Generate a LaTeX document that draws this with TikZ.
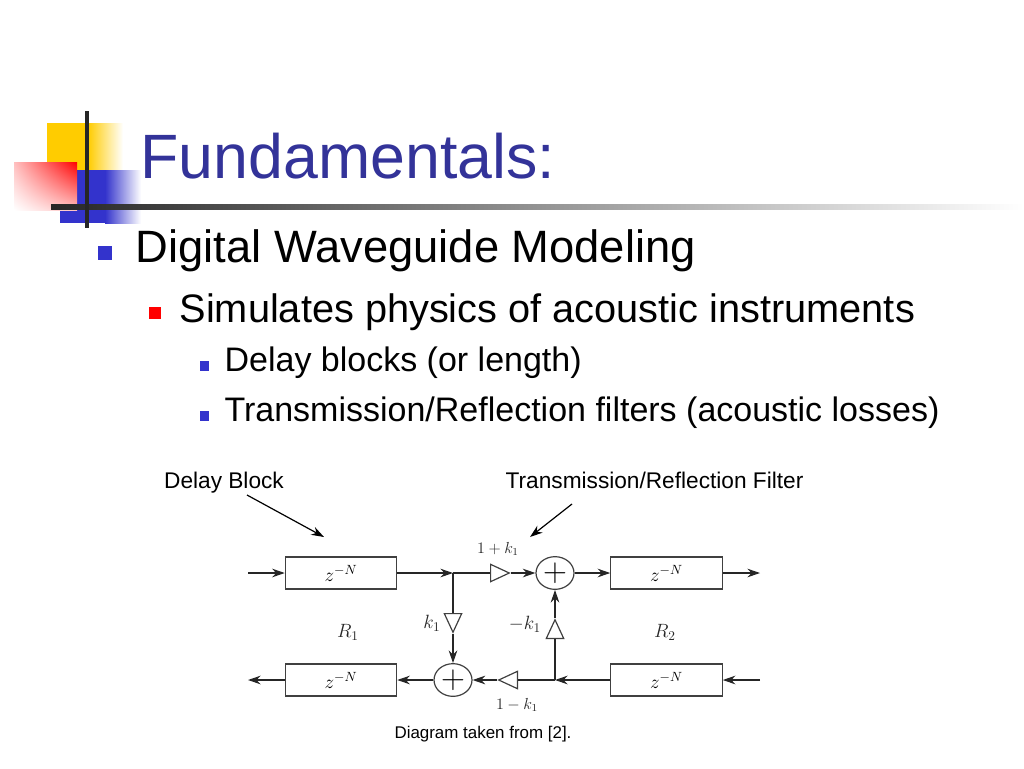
\documentclass[tikz,border=0pt]{standalone}
\usepackage{amsmath}
\usepackage{fontspec}
\setmainfont{Liberation Sans}
\usetikzlibrary{arrows.meta, positioning, shapes.geometric, shadings, calc}
\definecolor{titleblue}{RGB}{51,51,153}
\definecolor{bulletblue}{RGB}{51,51,204}
\definecolor{logoyellow}{RGB}{255,204,0}
\begin{document}
\begin{tikzpicture}[
		x=0.75pt, y=-0.75pt,
		>={Stealth[length=9.5pt,width=6.5pt]},
		line width=0.9pt,
		block/.style={rectangle, draw=black!75, minimum width=83.5pt, minimum height=24pt, inner sep=0pt},
		sum/.style={ellipse, draw=black!75, minimum width=28.5pt, minimum height=24.5pt, inner sep=0pt},
		gain/.style={isosceles triangle, isosceles triangle stretches, draw=black!75, minimum width=13pt, minimum height=14pt, inner sep=0pt, shape border rotate=#1, anchor=lower side},
		wire/.style={draw=black!85},
		tag/.style={font=\Large, inner sep=0pt, text=black!85},
		smalltag/.style={font=\large, inner sep=0pt, text=black!85},
		caption/.style={font=\fontsize{17}{20}\selectfont, inner sep=0pt, anchor=base},
		head/.style={anchor=base west, inner sep=0pt, font=\fontsize{#1}{#1}\selectfont},
		square/.style={fill=#1, draw=none, inner sep=0pt}
	]
	\useasboundingbox (0,0) rectangle (1024,768);
	% logo
	\fill[logoyellow] (47,123) rectangle (88,170);
	\shade[left color=logoyellow, right color=white] (88,123) rectangle (123,170);
	\fill[bulletblue] (60,170) rectangle (105,223);
	\shade[left color=bulletblue, right color=white] (105,170) rectangle (141,223);
	\shade[upper right=red, lower left=white, upper left=red!25!white, lower right=red!25!white] (14,162) rectangle (77,210);
	\shade[left color=black!85, right color=white] (51,204.5) rectangle (1024,209.5);
	\fill[black!85] (85.3,111) rectangle (88.7,228);

	% text
	\node[head=47, text=titleblue] (title) at (140,178) {Fundamentals:};
	\node[square=bulletblue, minimum size=10.5pt] (b1) at (105,253) {};
	\node[head=34] (l1) at (135,262) {Digital Waveguide Modeling};
	\node[square=red, minimum size=8.5pt] (b2) at (155,313) {};
	\node[head=29.8] (l2) at (179,322) {Simulates physics of acoustic instruments};
	\node[square=bulletblue, minimum size=7pt] (b3) at (204.5,366) {};
	\node[head=25.5] (l3) at (224,371) {Delay blocks (or length)};
	\node[square=bulletblue, minimum size=7pt] (b4) at (204.5,416) {};
	\node[head=25.5] (l4) at (224,421) {Transmission/Reflection filters (acoustic losses)};

	% blocks
	\node[block] (z1) at (341,573) {\Large $z^{-N}$};
	\node[block] (z2) at (666.5,573) {\Large $z^{-N}$};
	\node[block] (z3) at (341,680) {\Large $z^{-N}$};
	\node[block] (z4) at (666.5,680) {\Large $z^{-N}$};
	\node[sum] (s1) at (555,573) {\Huge $+$};
	\node[sum] (s2) at (453,680) {\Huge $+$};
	\node[gain=0] (g1) at (490,573) {};
	\node[gain=-90] (g2) at (453,613) {};
	\node[gain=90] (g3) at (555,639) {};
	\node[gain=180] (g4) at (518,680) {};

	\coordinate (in1) at (248,573);
	\coordinate (out1) at (760,573);
	\coordinate (in2) at (760,680);
	\coordinate (out2) at (248,680);
	\coordinate (j1) at (453,573);
	\coordinate (j2) at (555,680);

	% wires
	\draw[wire,->] (in1) -- (z1);
	\draw[wire,->] (z1) -- (j1);
	\draw[wire] (j1) -- (g1.lower side);
	\draw[wire,->] (g1.apex) -- (s1);
	\draw[wire,->] (s1) -- (z2);
	\draw[wire,->] (z2) -- (out1);
	\draw[wire] (j1) -- (g2.lower side);
	\draw[wire,->] (g2.apex) -- (s2);
	\draw[wire,->] (in2) -- (z4);
	\draw[wire,->] (z4) -- (j2);
	\draw[wire] (j2) -- (g4.lower side);
	\draw[wire,->] (g4.apex) -- (s2);
	\draw[wire,->] (s2) -- (z3);
	\draw[wire,->] (z3) -- (out2);
	\draw[wire] (j2) -- (g3.lower side);
	\draw[wire,->] (g3.apex) -- (s1);

	% labels
	\node[tag] (k1) at (432,623) {$k_1$};
	\node[tag] (k2) at (525,624) {$-k_1$};
	\node[smalltag] (k3) at (498,549) {$1+k_1$};
	\node[smalltag] (k4) at (517,705) {$1-k_1$};
	\node[tag] (r1) at (348,632) {$R_1$};
	\node[tag] (r2) at (665,632) {$R_2$};

	% captions
	\node[caption] (delay) at (224,488) {Delay Block};
	\node[caption] (filter) at (654.5,488) {Transmission/Reflection Filter};
	\node[caption, font=\fontsize{12.7}{15}\selectfont] (source) at (483,738) {Diagram taken from [2].};
	\coordinate (d0) at (247,495);
	\coordinate (d1) at (324,537);
	\coordinate (f0) at (572,504);
	\coordinate (f1) at (530,537);
	\draw[black,->] (d0) -- (d1);
	\draw[black,->] (f0) -- (f1);
\end{tikzpicture}
\end{document}
